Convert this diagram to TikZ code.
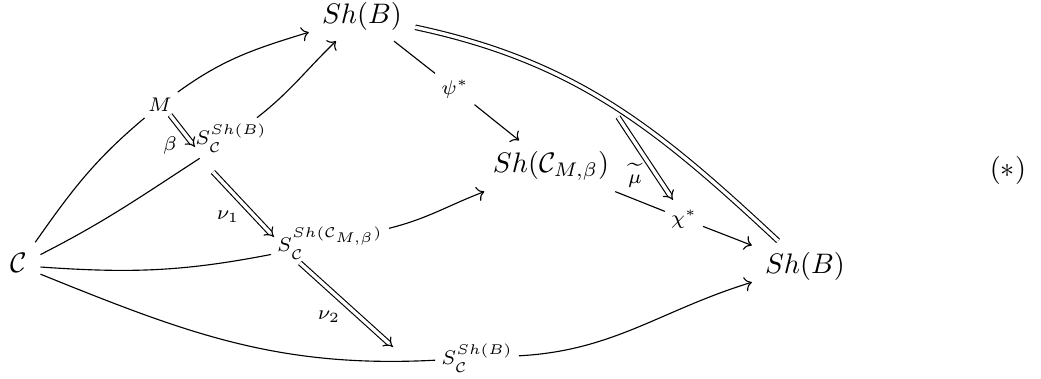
\documentclass[tikz,border=0pt]{standalone}
\usetikzlibrary{arrows.meta}
\begin{document}
\begin{tikzpicture}[x=0.3546pt,y=0.3546pt,
  obj/.style={inner xsep=4.5pt,inner ysep=3.7pt},
  lbl/.style={inner sep=2pt},
  arr/.style={line width=0.4pt,-{Computer Modern Rightarrow}},
  eqline/.style={line width=0.4pt,double,double distance=1.2pt},
  cell/.style={line width=0.4pt,double,double distance=1.2pt,-{Implies}},
  cellname/.style={inner sep=0pt}]
\useasboundingbox (0,0) rectangle (1041,-378);
% objects
\node[obj,text height=6.83pt,text depth=1.83pt] (C) at (19,-265.5) {$\mathcal{C}$};
\node[obj] (ShBt) at (362,-16) {$Sh(B)$};
\node[obj] (ShC) at (551,-166) {$Sh(\mathcal{C}_{M,\beta})$};
\node[obj] (ShBr) at (805,-266) {$Sh(B)$};
\node (star) at (1008,-170) {$(*)$};
% arrow labels
\node[lbl] (m) at (160,-105) {$\scriptstyle M$};
\node[lbl] (s1) at (231,-138) {$\scriptstyle S_{\mathcal C}^{Sh(B)}$};
\node[lbl] (s2) at (330,-243) {$\scriptstyle S_{\mathcal C}^{Sh(\mathcal{C}_{M,\beta})}$};
\node[lbl] (s3) at (477,-358) {$\scriptstyle S_{\mathcal C}^{Sh(B)}$};
\node[lbl] (psi) at (455,-89) {$\scriptstyle \psi^*$};
\node[lbl] (chi) at (684,-219) {$\scriptstyle \chi^*$};
% arrows
\draw[arr] (C) to[out=55,in=-140] (m) to[out=36,in=-163] (ShBt);
\draw[arr] (C) to[out=27,in=-147] (s1) to[out=38,in=-136] (ShBt);
\draw[arr] (C) to[out=-4,in=-169] (s2) to[out=14,in=-159] (ShC);
\draw[arr] (C) to[out=-22,in=-177] (s3) to[out=3,in=-163] (ShBr);
\draw[arr] (ShBt) -- (psi) -- (ShC);
\draw[arr] (ShC) -- (chi) -- (ShBr);
\draw[eqline] (ShBt) to[out=-12,in=137] (ShBr);
% 2-cells
\coordinate (b0) at (170,-115);
\coordinate (b1) at (195,-147);
\coordinate (n10) at (213,-172);
\coordinate (n11) at (274,-237);
\coordinate (n20) at (300,-263);
\coordinate (n21) at (393,-347);
\coordinate (mu0) at (618,-117);
\coordinate (mu1) at (673,-200);
\draw[cell] (b0) -- (b1);
\draw[cell] (n10) -- (n11);
\draw[cell] (n20) -- (n21);
\draw[cell] (mu0) -- (mu1);
\node[cellname] (beta) at (170,-146) {$\scriptstyle\beta$};
\node[cellname] (nu1) at (228,-217) {$\scriptstyle\nu_1$};
\node[cellname] (nu2) at (329,-317) {$\scriptstyle\nu_2$};
\node[cellname] (mu) at (635,-175) {$\scriptstyle\widetilde{\mu}$};
\end{tikzpicture}
\end{document}
